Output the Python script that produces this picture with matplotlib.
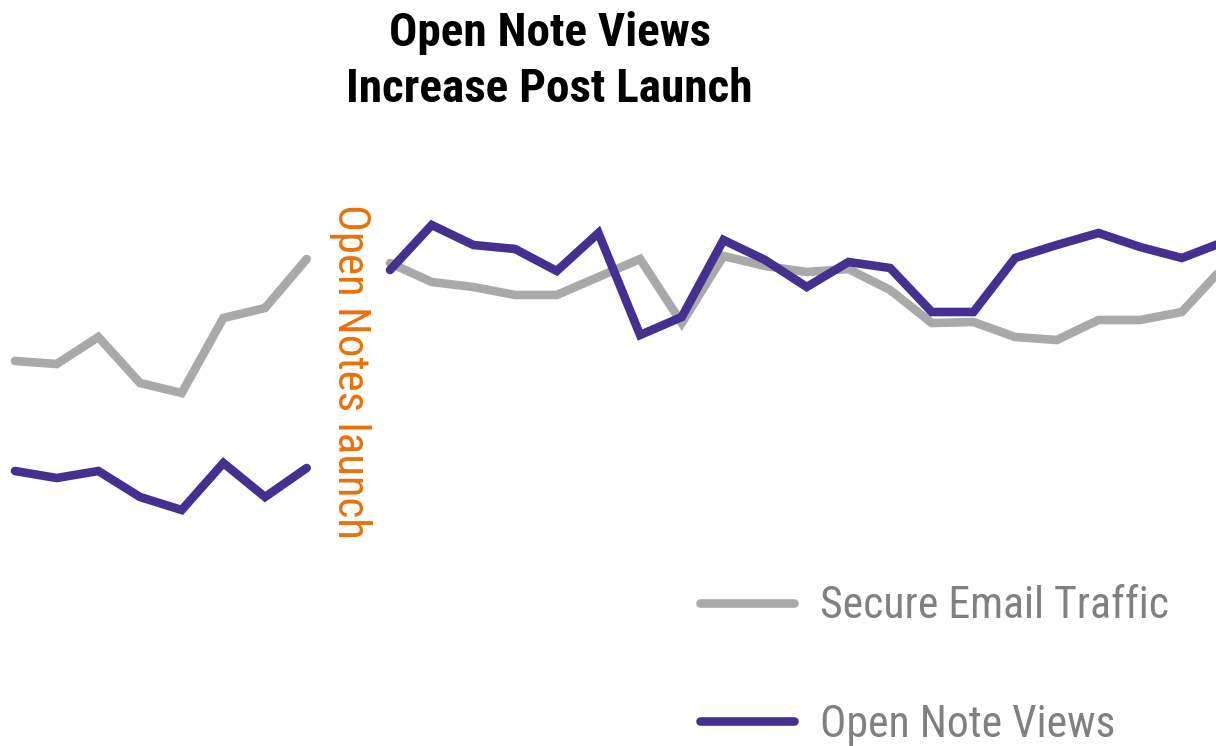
import matplotlib
matplotlib.use("Agg")
import matplotlib.pyplot as plt

plt.rcParams['font.family'] = ['Roboto Condensed', 'Liberation Sans', 'DejaVu Sans']

purple = "#46308F"
grey = "#A9A9A9"
orange = "#E8720C"

# weekly index, launch at week 8
pre_weeks = list(range(0, 8))
post_weeks = list(range(9, 30))
launch_week = 8

email_pre = [189, 186, 213, 167, 157, 232, 242, 291]
email_post = [287, 268, 263, 255, 255, 273, 291, 227, 294, 284, 278, 281,
              260, 227, 228, 213, 210, 230, 230, 238, 283]
views_pre = [79, 72, 79, 53, 40, 87, 53, 82]
views_post = [280, 325, 305, 301, 279, 317, 215, 233, 310, 290, 263, 288,
              282, 238, 238, 292, 305, 317, 303, 292, 308]

fig = plt.figure(figsize=(12.16, 7.46), dpi=100)
ax = fig.add_axes([0, 0, 1, 1])

lw = 6.2
kw = dict(lw=lw, solid_capstyle='round', solid_joinstyle='miter')
ax.plot(pre_weeks, email_pre, color=grey, label="Secure Email Traffic", **kw)
ax.plot(post_weeks, email_post, color=grey, **kw)
ax.plot(pre_weeks, views_pre, color=purple, label="Open Note Views", **kw)
ax.plot(post_weeks, views_post, color=purple, **kw)

ax.text(launch_week + 0.05, 346, "Open Notes launch", rotation=-90, color=orange,
        fontsize=32.3, ha='left', va='center', rotation_mode='anchor')

ax.set_xlim(-0.36, 28.82)
ax.set_ylim(-196, 550)
ax.axis('off')

fig.text(0.452, 0.918, "Open Note Views\nIncrease Post Launch", ha='center',
         va='center', fontsize=34, fontweight='bold', linespacing=1.33)

leg = ax.legend(loc='upper left', bbox_to_anchor=(700 / 1216, 1 - 585 / 746),
                frameon=False, fontsize=31.5, labelcolor='#808080',
                handlelength=2.15, handletextpad=0.6, labelspacing=1.75,
                borderpad=0, borderaxespad=0)

fig.savefig("out.png", dpi=100)
